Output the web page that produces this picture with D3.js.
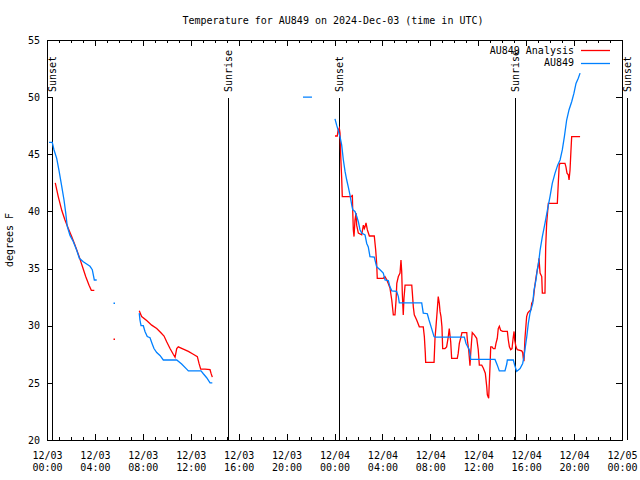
<!DOCTYPE html>
<html>
<head>
<meta charset="utf-8">
<script src="https://cdn.jsdelivr.net/npm/d3@7"></script>
<style>
  html, body { margin: 0; padding: 0; background: #fff; }
  svg { display: block; }
  text { font-family: "DejaVu Sans Mono", monospace; font-size: 10px; fill: #000; }
</style>
</head>
<body>
<svg id="chart" width="640" height="480"></svg>
<script>
// ---- data (hours since 2024-12-03 00:00 UTC, degrees F); null breaks a line ----
const titleText = "Temperature for AU849 on 2024-Dec-03 (time in UTC)";
const yLabelText = "degrees F";
const seriesNames = ["AU849 Analysis", "AU849"];
const seriesColors = ["#ff0000", "#0080ff"];

const analysisHours = [
  0.69,0.94,1.23,1.5,1.78,2.06,2.34,2.7,2.95,3.23,3.51,3.7,3.95,
  null, 5.59, null,
  7.7,7.9,8.32,8.74,9.16,9.49,9.77,9.99,10.27,10.54,10.69,10.83,10.96,11.38,11.8,12.21,12.55,12.69,12.83,13.19,13.61,13.69,13.8,
  null,
  24.04,24.23,24.29,24.4,24.46,24.52,24.6,24.65,25.44,25.49,25.52,25.57,25.63,25.71,25.8,25.85,25.99,26.27,26.41,26.49,26.55,26.63,26.74,26.91,27.32,27.44,27.52,27.57,28.07,28.21,28.35,28.49,28.63,28.78,28.91,29.05,29.14,29.2,29.33,29.47,29.55,29.61,29.66,29.74,29.8,29.89,30.45,30.5,30.58,30.66,30.86,31.08,31.41,31.5,31.58,31.61,32.31,32.39,32.47,32.58,32.66,32.75,32.81,32.89,32.97,33.03,33.22,33.36,33.5,33.58,33.7,33.78,34.25,34.33,34.42,34.53,34.64,35.04,35.09,35.2,35.31,35.37,35.45,35.5,35.67,35.87,36.0,36.09,36.29,36.42,36.59,36.71,36.76,36.87,36.92,36.98,37.04,37.15,37.26,37.4,37.48,37.59,37.67,37.76,37.87,38.04,38.43,38.51,38.6,38.71,38.82,38.91,38.99,39.04,39.15,39.26,39.63,39.71,39.76,39.82,39.9,40.04,40.13,40.24,40.4,40.46,40.59,40.68,40.79,40.88,41.01,41.07,41.16,41.3,41.35,41.57,41.63,41.71,41.85,42.6,42.68,42.76,42.82,43.24,43.32,43.41,43.52,43.58,43.66,43.74,43.8,44.5
];
const analysisTemps = [
  42.5,41.3,40.1,39.25,38.5,37.8,37.05,36.0,35.2,34.3,33.55,33.1,33.1,
  null, 28.8, null,
  31.3,30.8,30.45,30.05,29.75,29.4,29.1,28.6,28.0,27.5,27.25,28.0,28.15,27.95,27.75,27.5,27.3,26.7,26.2,26.2,26.15,25.85,25.5,
  null,
  46.6,46.6,47.05,47.3,46.85,44.8,42.9,41.3,41.3,41.45,40.1,38.4,37.8,39.25,39.85,38.8,38.1,37.95,38.8,38.5,38.65,39.0,38.4,37.85,37.85,36.6,35.45,34.15,34.15,34.3,34.05,33.7,33.3,32.25,30.95,30.95,32.25,33.7,34.3,34.6,35.75,34.75,32.85,30.95,32.4,33.55,33.55,32.85,31.65,30.95,30.5,29.9,29.9,29.05,27.6,26.8,26.8,28.9,29.9,31.4,32.55,31.95,31.25,30.8,29.9,28.0,28.0,28.15,29.05,29.75,28.6,27.15,27.15,27.6,28.45,28.9,29.4,29.4,28.75,27.9,26.5,27.6,28.75,29.4,29.2,28.9,27.9,26.55,26.55,26.3,25.85,24.65,23.95,23.65,24.95,26.4,28.15,28.15,28.0,28.0,28.45,28.9,29.75,29.95,29.6,29.5,29.5,28.75,28.15,27.9,28.0,28.9,29.5,28.75,28.15,27.9,27.8,27.65,27.15,26.9,28.9,30.8,31.1,31.25,31.4,31.95,32.25,33.1,34.0,34.6,35.3,35.9,34.6,34.3,32.85,32.85,36.9,38.95,40.7,40.7,42.45,44.05,44.2,44.2,43.9,43.35,43.2,42.75,43.6,45.35,46.55,46.55
];

const observedHours = [
  0.17,0.44,0.58,0.81,1.0,1.23,1.42,1.56,1.69,1.92,2.2,2.48,2.7,3.03,3.31,3.59,3.78,3.95,4.15,
  null, 5.59, null,
  7.7,7.76,7.85,8.04,8.18,8.37,8.6,8.77,8.93,9.16,9.43,9.71,10.83,11.24,11.66,11.8,12.86,13.05,13.33,13.61,13.8,
  null, 21.37,22.12, null,
  24.04,24.18,24.32,24.46,24.6,24.74,24.88,25.02,25.15,25.29,25.44,25.52,25.71,25.86,25.99,26.13,26.27,26.55,26.69,26.82,26.96,27.32,27.52,27.8,28.07,28.22,28.49,28.63,28.78,29.19,29.33,29.41,31.28,31.41,31.75,31.89,32.11,32.31,32.39,34.84,34.98,35.25,35.37,37.4,37.59,37.76,38.23,38.38,38.43,38.93,39.04,39.21,39.49,39.71,39.82,39.93,40.05,40.18,40.32,40.55,40.65,40.82,40.93,41.05,41.16,41.35,41.57,41.77,41.99,42.18,42.41,42.63,42.83,43.02,43.19,43.38,43.58,43.8,43.99,44.16,44.35,44.5
];
const observedTemps = [
  46.05,46.05,45.4,44.65,43.6,42.2,41.0,39.9,38.7,37.9,37.35,36.6,35.9,35.6,35.4,35.2,34.9,34.0,34.0,
  null, 32.0, null,
  31.1,30.5,30.0,30.0,29.5,29.05,28.95,28.45,28.0,27.65,27.4,27.0,27.0,26.65,26.2,26.05,26.05,25.8,25.45,25.0,25.0,
  null, 50.0,50.0, null,
  48.1,47.55,47.05,46.55,45.8,44.5,43.5,42.75,42.15,41.45,40.55,40.15,40.0,39.55,39.1,38.4,38.1,37.95,37.2,36.9,36.05,36.0,35.15,34.9,34.6,34.0,33.95,33.4,33.05,33.0,32.55,32.0,32.0,31.1,31.05,30.5,29.75,29.05,29.0,29.0,28.45,27.9,27.05,27.05,26.55,26.05,26.05,26.65,27.0,27.0,26.55,26.0,26.25,26.7,27.3,28.15,29.05,30.2,31.1,31.95,33.1,34.0,34.9,35.6,36.6,37.8,38.95,40.1,41.3,42.45,43.35,44.05,44.5,45.4,46.55,48.0,48.9,49.6,50.35,51.2,51.65,52.1
];

const sunEventHours = [0.42, 15.07, 24.4, 39.09, 48.42];
const sunEventNames = ["Sunset", "Sunrise", "Sunset", "Sunrise", "Sunset"];

const xTickHours = [0,4,8,12,16,20,24,28,32,36,40,44,48];
const xTickDates = ["12/03","12/03","12/03","12/03","12/03","12/03","12/04","12/04","12/04","12/04","12/04","12/04","12/05"];
const xTickTimes = ["00:00","04:00","08:00","12:00","16:00","20:00","00:00","04:00","08:00","12:00","16:00","20:00","00:00"];
const yTickValues = [20,25,30,35,40,45,50,55];

// ---- drawing ----
const svg = d3.select("#chart");
const L = 47, R = 622, T = 40, B = 440;
const x = d3.scaleLinear().domain([0, 48]).range([L, R]);
const y = d3.scaleLinear().domain([20, 55]).range([B, T]);

// title
svg.append("text").attr("x", 333).attr("y", 24).attr("text-anchor", "middle").text(titleText);
// y label
svg.append("text").attr("transform", "translate(13,240) rotate(-90)").attr("text-anchor", "middle").text(yLabelText);

// axes (inward ticks)
const minorHours = d3.range(0, 49, 1).filter(h => h % 4 !== 0);
function drawAxis(axis, tx, ty) {
  const g = svg.append("g").attr("transform", `translate(${tx},${ty})`).call(axis);
  g.select(".domain").remove();
  g.selectAll("line").attr("stroke", "#000").attr("shape-rendering", "crispEdges");
  return g;
}
drawAxis(d3.axisBottom(x).tickValues(minorHours).tickSize(-3).tickFormat(""), 0, B);
drawAxis(d3.axisTop(x).tickValues(minorHours).tickSize(-3).tickFormat(""), 0, T);
drawAxis(d3.axisTop(x).tickValues(xTickHours).tickSize(-6).tickFormat(""), 0, T);
const xb = drawAxis(d3.axisBottom(x).tickValues(xTickHours).tickSize(-6).tickFormat(""), 0, B);
xb.selectAll(".tick").each(function(d, i) {
  const t = d3.select(this).append("text").attr("text-anchor", "middle").attr("fill", "#000");
  t.append("tspan").attr("x", 0).attr("y", 19).text(xTickDates[i]);
  t.append("tspan").attr("x", 0).attr("y", 31).text(xTickTimes[i]);
});
xb.selectAll("text").style("font-family", "'DejaVu Sans Mono', monospace").style("font-size", "10px");

const yl = drawAxis(d3.axisLeft(y).tickValues(yTickValues).tickSize(-6).tickPadding(10), L, 0);
yl.selectAll("text").attr("x", -7).style("font-family", "'DejaVu Sans Mono', monospace").style("font-size", "10px").attr("fill", "#000");
drawAxis(d3.axisRight(y).tickValues(yTickValues).tickSize(-6).tickFormat(""), R, 0);

// frame
svg.append("rect").attr("x", L).attr("y", T).attr("width", R - L).attr("height", B - T)
  .attr("fill", "none").attr("stroke", "#000").attr("shape-rendering", "crispEdges");

// sunrise / sunset lines
sunEventHours.forEach((h, i) => {
  const sx = Math.round(x(h)) + 0.5;
  svg.append("line").attr("x1", sx).attr("x2", sx).attr("y1", y(50) + 1).attr("y2", B)
    .attr("stroke", "#000").attr("stroke-width", 1).attr("shape-rendering", "crispEdges");
  svg.append("text").attr("transform", `translate(${sx},92) rotate(-90)`)
    .attr("dy", "0.35em").text(sunEventNames[i]);
});

// series
function series(hours, temps, color) {
  const pts = hours.map((h, i) => ({h, t: temps[i]}));
  const line = d3.line().defined(d => d.t != null).x(d => x(d.h)).y(d => y(d.t));
  svg.append("path").attr("d", line(pts)).attr("fill", "none").attr("stroke", color)
    .attr("stroke-width", 1.3).attr("stroke-linejoin", "miter");
  pts.forEach((d, i) => {
    const prev = pts[i - 1], next = pts[i + 1];
    if (d.t != null && (!prev || prev.t == null) && (!next || next.t == null)) {
      svg.append("rect").attr("x", Math.round(x(d.h)) - 0.5).attr("y", Math.round(y(d.t)) - 0.5)
        .attr("width", 1.5).attr("height", 1.5).attr("fill", color);
    }
  });
}
series(analysisHours, analysisTemps, seriesColors[0]);
series(observedHours, observedTemps, seriesColors[1]);

// legend
seriesNames.forEach((name, i) => {
  const ly = 50 + i * 12.5;
  svg.append("text").attr("x", 574).attr("y", ly).attr("dy", "0.35em").attr("text-anchor", "end").text(name);
  svg.append("line").attr("x1", 581).attr("x2", 610).attr("y1", Math.round(ly) + 0.5).attr("y2", Math.round(ly) + 0.5)
    .attr("stroke", seriesColors[i]).attr("stroke-width", 1.3);
});
</script>
</body>
</html>
